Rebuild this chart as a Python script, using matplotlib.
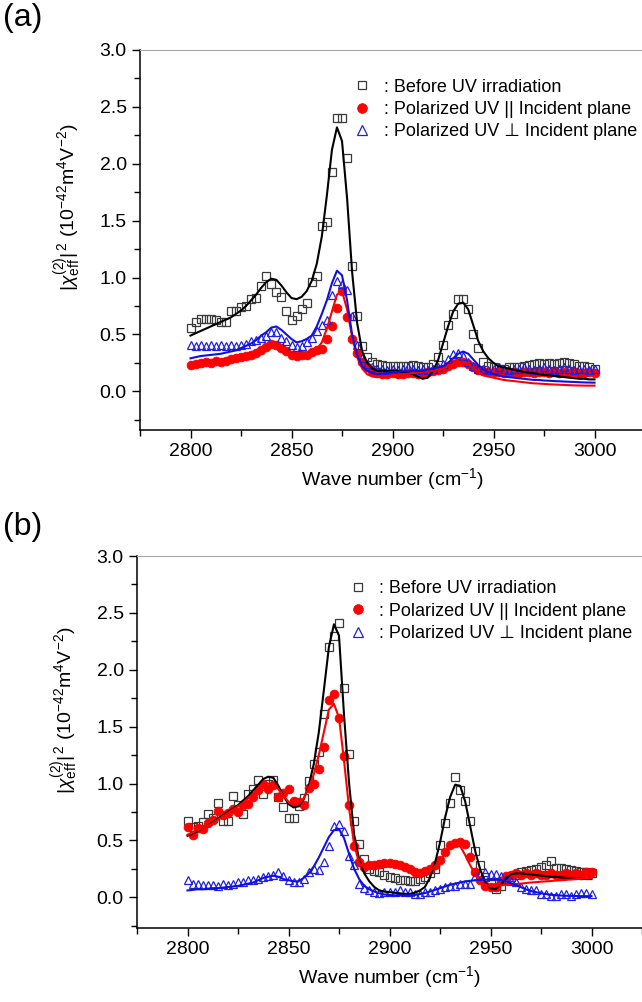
import numpy as np
import matplotlib
matplotlib.use("Agg")
import matplotlib.pyplot as plt
from matplotlib.ticker import MultipleLocator, FormatStrFormatter

plt.rcParams['font.family'] = ['Liberation Sans', 'DejaVu Sans']
plt.rcParams['mathtext.fontset'] = 'custom'
plt.rcParams['mathtext.rm'] = 'Liberation Sans'
plt.rcParams['mathtext.it'] = 'Liberation Sans:italic'
plt.rcParams['mathtext.bf'] = 'Liberation Sans:bold'

# wave number grid of the SFG scans (cm-1)
wn = np.arange(2800, 3000.1, 2.5)

# ---- (a) measured |chi|^2 ----
a_before = [0.56, 0.61, 0.64, 0.64, 0.64, 0.63, 0.61, 0.61, 0.71, 0.71,
            0.74, 0.75, 0.81, 0.82, 0.93, 1.01, 0.94, 0.87, 0.83, 0.71,
            0.63, 0.66, 0.72, 0.78, 0.96, 1.01, 1.45, 1.49, 1.93, 2.40,
            2.40, 2.05, 1.10, 0.66, 0.40, 0.30, 0.26, 0.24, 0.23, 0.22,
            0.22, 0.22, 0.22, 0.22, 0.23, 0.22, 0.21, 0.21, 0.24, 0.30,
            0.41, 0.58, 0.68, 0.81, 0.81, 0.72, 0.50, 0.38, 0.26, 0.22,
            0.21, 0.20, 0.20, 0.21, 0.21, 0.21, 0.22, 0.23, 0.24, 0.25,
            0.24, 0.25, 0.24, 0.25, 0.26, 0.25, 0.24, 0.22, 0.22, 0.21,
            0.20]
a_para = [0.23, 0.24, 0.25, 0.26, 0.25, 0.27, 0.26, 0.27, 0.28, 0.29,
          0.30, 0.31, 0.32, 0.34, 0.36, 0.39, 0.42, 0.41, 0.38, 0.35,
          0.32, 0.31, 0.32, 0.32, 0.345, 0.36, 0.37, 0.46, 0.57, 0.73,
          0.88, 0.65, 0.46, 0.34, 0.26, 0.21, 0.18, 0.16, 0.15, 0.15,
          0.16, 0.15, 0.15, 0.16, 0.16, 0.15, 0.16, 0.17, 0.18, 0.19,
          0.20, 0.22, 0.24, 0.26, 0.26, 0.24, 0.21, 0.19, 0.18, 0.17,
          0.17, 0.17, 0.16, 0.17, 0.17, 0.16, 0.17, 0.17, 0.16, 0.17,
          0.17, 0.16, 0.17, 0.16, 0.17, 0.16, 0.17, 0.16, 0.16, 0.17,
          0.16]
a_perp = [0.41, 0.40, 0.41, 0.40, 0.41, 0.40, 0.41, 0.40, 0.41, 0.40,
          0.41, 0.42, 0.44, 0.45, 0.47, 0.49, 0.52, 0.52, 0.47, 0.44,
          0.41, 0.39, 0.40, 0.43, 0.47, 0.53, 0.58, 0.63, 0.85, 0.97,
          0.94, 0.89, 0.66, 0.41, 0.29, 0.24, 0.21, 0.20, 0.20, 0.19,
          0.20, 0.19, 0.20, 0.21, 0.20, 0.19, 0.20, 0.19, 0.20, 0.21,
          0.24, 0.28, 0.33, 0.34, 0.31, 0.26, 0.22, 0.20, 0.20, 0.19,
          0.20, 0.21, 0.20, 0.19, 0.20, 0.20, 0.21, 0.20, 0.19, 0.20,
          0.21, 0.20, 0.19, 0.20, 0.21, 0.20, 0.19, 0.20, 0.20, 0.19,
          0.20]

# ---- (a) fitted curves ----
a_before_fit = [0.49, 0.51, 0.53, 0.55, 0.57, 0.59, 0.61, 0.63, 0.65, 0.68,
                0.71, 0.75, 0.80, 0.85, 0.91, 0.96, 0.99, 0.98, 0.93, 0.87,
                0.82, 0.81, 0.83, 0.88, 0.97, 1.12, 1.36, 1.72, 2.12, 2.32,
                2.20, 1.70, 1.05, 0.60, 0.35, 0.25, 0.20, 0.18, 0.18, 0.18,
                0.18, 0.18, 0.17, 0.16, 0.15, 0.13, 0.11, 0.12, 0.18, 0.27,
                0.42, 0.57, 0.70, 0.77, 0.78, 0.72, 0.58, 0.44, 0.35, 0.29,
                0.25, 0.22, 0.21, 0.20, 0.19, 0.18, 0.17, 0.165, 0.16, 0.15,
                0.145, 0.14, 0.135, 0.13, 0.125, 0.12, 0.115, 0.11, 0.11, 0.105,
                0.105]
a_para_fit = [0.24, 0.245, 0.25, 0.255, 0.26, 0.265, 0.27, 0.28, 0.29, 0.30,
              0.31, 0.32, 0.34, 0.36, 0.38, 0.41, 0.43, 0.43, 0.40, 0.36,
              0.33, 0.31, 0.31, 0.32, 0.34, 0.37, 0.43, 0.55, 0.70, 0.85,
              0.88, 0.72, 0.48, 0.30, 0.20, 0.15, 0.13, 0.125, 0.13, 0.135,
              0.14, 0.145, 0.15, 0.155, 0.16, 0.165, 0.17, 0.175, 0.18, 0.19,
              0.20, 0.22, 0.24, 0.26, 0.26, 0.24, 0.20, 0.17, 0.14, 0.13,
              0.12, 0.11, 0.10, 0.095, 0.09, 0.085, 0.08, 0.075, 0.07, 0.068,
              0.065, 0.062, 0.06, 0.058, 0.056, 0.054, 0.052, 0.051, 0.05, 0.05,
              0.05]
a_perp_fit = [0.29, 0.30, 0.31, 0.315, 0.32, 0.325, 0.33, 0.34, 0.35, 0.36,
              0.38, 0.40, 0.42, 0.45, 0.49, 0.52, 0.56, 0.57, 0.54, 0.50,
              0.46, 0.43, 0.44, 0.46, 0.49, 0.57, 0.68, 0.80, 0.95, 1.06,
              1.02, 0.80, 0.50, 0.32, 0.22, 0.18, 0.16, 0.15, 0.155, 0.16,
              0.17, 0.17, 0.175, 0.175, 0.18, 0.18, 0.18, 0.19, 0.20, 0.21,
              0.22, 0.25, 0.29, 0.33, 0.35, 0.33, 0.28, 0.23, 0.19, 0.17,
              0.15, 0.14, 0.13, 0.125, 0.12, 0.115, 0.11, 0.105, 0.10, 0.10,
              0.095, 0.093, 0.09, 0.088, 0.086, 0.084, 0.082, 0.08, 0.078, 0.077,
              0.076]

# ---- (b) measured |chi|^2 ----
b_before = [0.67, 0.62, 0.63, 0.66, 0.73, 0.70, 0.83, 0.67, 0.67, 0.89,
            0.81, 0.73, 0.91, 0.95, 1.03, 0.91, 1.00, 1.03, 0.88, 0.79,
            0.70, 0.70, 0.80, 0.87, 1.02, 1.17, 1.28, 1.61, 2.20, 2.30,
            2.41, 1.84, 1.26, 0.67, 0.47, 0.34, 0.25, 0.23, 0.22, 0.20,
            0.18, 0.17, 0.15, 0.15, 0.14, 0.14, 0.16, 0.18, 0.21, 0.25,
            0.46, 0.65, 0.83, 1.06, 0.94, 0.85, 0.67, 0.41, 0.28, 0.18,
            0.12, 0.07, 0.10, 0.15, 0.18, 0.20, 0.22, 0.23, 0.24, 0.25,
            0.27, 0.28, 0.32, 0.26, 0.26, 0.25, 0.24, 0.23, 0.22, 0.22,
            0.21]
b_para = [0.62, 0.55, 0.61, 0.60, 0.65, 0.68, 0.76, 0.72, 0.74, 0.78,
          0.75, 0.81, 0.82, 0.88, 0.94, 1.00, 0.95, 0.99, 0.88, 0.92,
          0.95, 0.85, 0.84, 0.81, 0.96, 1.00, 1.13, 1.32, 1.73, 1.79,
          1.58, 1.24, 0.81, 0.45, 0.31, 0.27, 0.28, 0.28, 0.29, 0.30,
          0.30, 0.29, 0.28, 0.27, 0.25, 0.22, 0.21, 0.23, 0.25, 0.28,
          0.33, 0.40, 0.46, 0.48, 0.49, 0.47, 0.35, 0.22, 0.15, 0.10,
          0.09, 0.09, 0.14, 0.19, 0.20, 0.21, 0.20, 0.21, 0.20, 0.21,
          0.20, 0.20, 0.21, 0.20, 0.20, 0.21, 0.20, 0.21, 0.20, 0.22,
          0.22]
b_perp = [0.15, 0.12, 0.12, 0.11, 0.11, 0.11, 0.10, 0.12, 0.11, 0.12,
          0.13, 0.13, 0.15, 0.15, 0.16, 0.18, 0.19, 0.20, 0.22, 0.19,
          0.15, 0.13, 0.13, 0.16, 0.22, 0.25, 0.24, 0.31, 0.45, 0.63,
          0.645, 0.58, 0.36, 0.28, 0.12, 0.08, 0.06, 0.05, 0.04, 0.05,
          0.05, 0.05, 0.06, 0.05, 0.05, 0.03, 0.03, 0.05, 0.05, 0.065,
          0.075, 0.09, 0.10, 0.10, 0.12, 0.12, 0.12, 0.185, 0.205, 0.22,
          0.205, 0.205, 0.19, 0.16, 0.146, 0.13, 0.09, 0.07, 0.067, 0.06,
          0.03, 0.03, 0.015, 0.015, 0.03, 0.03, 0.015, 0.03, 0.04, 0.04,
          0.03]

# ---- (b) fitted curves ----
b_before_fit = [0.54, 0.56, 0.58, 0.61, 0.63, 0.66, 0.69, 0.72, 0.75, 0.78,
                0.81, 0.85, 0.89, 0.94, 0.99, 1.04, 1.06, 1.05, 0.98, 0.89,
                0.82, 0.79, 0.80, 0.86, 0.98, 1.17, 1.45, 1.82, 2.20, 2.40,
                2.30, 1.60, 1.00, 0.55, 0.33, 0.21, 0.14, 0.09, 0.06, 0.05,
                0.045, 0.04, 0.035, 0.03, 0.03, 0.04, 0.06, 0.09, 0.17, 0.30,
                0.48, 0.70, 0.88, 0.99, 0.98, 0.84, 0.62, 0.40, 0.24, 0.13,
                0.08, 0.07, 0.11, 0.16, 0.20, 0.21, 0.21, 0.205, 0.20, 0.195,
                0.19, 0.185, 0.18, 0.18, 0.175, 0.17, 0.17, 0.165, 0.165, 0.16,
                0.16]
b_para_fit = [0.55, 0.57, 0.59, 0.61, 0.63, 0.65, 0.68, 0.71, 0.74, 0.77,
              0.80, 0.83, 0.87, 0.91, 0.95, 0.98, 1.00, 0.99, 0.95, 0.89,
              0.84, 0.81, 0.82, 0.87, 0.96, 1.08, 1.25, 1.45, 1.65, 1.70,
              1.58, 1.20, 0.78, 0.46, 0.30, 0.26, 0.26, 0.27, 0.27, 0.27,
              0.27, 0.27, 0.26, 0.25, 0.23, 0.21, 0.20, 0.21, 0.23, 0.27,
              0.32, 0.39, 0.45, 0.48, 0.45, 0.37, 0.28, 0.20, 0.14, 0.11,
              0.10, 0.10, 0.105, 0.11, 0.113, 0.117, 0.12, 0.125, 0.13, 0.133,
              0.137, 0.14, 0.143, 0.147, 0.15, 0.153, 0.157, 0.16, 0.163, 0.167,
              0.17]
b_perp_fit = [0.06, 0.065, 0.07, 0.07, 0.075, 0.08, 0.08, 0.085, 0.09, 0.095,
              0.10, 0.11, 0.12, 0.13, 0.15, 0.17, 0.18, 0.19, 0.18, 0.16,
              0.15, 0.14, 0.14, 0.17, 0.21, 0.27, 0.35, 0.44, 0.53, 0.59,
              0.60, 0.52, 0.38, 0.25, 0.16, 0.10, 0.07, 0.05, 0.035, 0.025,
              0.02, 0.017, 0.015, 0.015, 0.017, 0.02, 0.028, 0.037, 0.05, 0.065,
              0.08, 0.095, 0.11, 0.12, 0.13, 0.14, 0.145, 0.15, 0.153, 0.155,
              0.155, 0.155, 0.153, 0.14, 0.125, 0.11, 0.09, 0.07, 0.055, 0.045,
              0.035, 0.028, 0.022, 0.018, 0.015, 0.013, 0.012, 0.011, 0.01, 0.01,
              0.01]

labels = [": Before UV irradiation",
          ": Polarized UV || Incident plane",
          ": Polarized UV \u22a5 Incident plane"]

fs = 14     # tick / axis label size
lfs = 13    # legend size
lw = 1.5    # fit line width
ms = 5.6    # marker size

fig = plt.figure(figsize=(6.42, 10.02), dpi=100)
# panel (a) sits a little further right than panel (b)
ax_a = fig.add_axes([140/642, 1-430/1002, 505/642, 380/1002])
ax_b = fig.add_axes([137/642, 1-928/1002, 505/642, 372/1002])


def draw_panel(ax, before, para, perp, before_fit, para_fit, perp_fit,
               ymin, leg_x, leg_y):
    h1, = ax.plot(wn, before, ls='none', marker='s', ms=ms, mfc='none',
                  mec='#3a3a3a', mew=0.9, zorder=2)
    h2, = ax.plot(wn, para, ls='none', marker='o', ms=ms+0.8, mfc='red',
                  mec='red', mew=0.5, zorder=3)
    h3, = ax.plot(wn, perp, ls='none', marker='^', ms=ms+0.6, mfc='none',
                  mec='#2020e0', mew=0.9, zorder=4)
    ax.plot(wn, before_fit, color='black', lw=lw, zorder=5)
    ax.plot(wn, para_fit, color='red', lw=lw, zorder=5)
    ax.plot(wn, perp_fit, color='#1010e0', lw=lw, zorder=6)

    ax.set_xlim(2775, 3025)
    ax.set_ylim(ymin, 3.0)
    ax.xaxis.set_major_locator(MultipleLocator(50))
    ax.xaxis.set_minor_locator(MultipleLocator(25))
    ax.yaxis.set_major_locator(MultipleLocator(0.5))
    ax.yaxis.set_minor_locator(MultipleLocator(0.25))
    ax.yaxis.set_major_formatter(FormatStrFormatter('%.1f'))
    ax.tick_params(which='both', direction='out', top=False, right=False,
                   labelsize=fs, width=1.0)
    ax.tick_params(which='major', length=6)
    ax.tick_params(which='minor', length=4)
    for s in ('left', 'bottom'):
        ax.spines[s].set_linewidth(1.1)
    for s in ('top', 'right'):
        ax.spines[s].set_color('#a8a8a8')
        ax.spines[s].set_linewidth(0.8)

    ax.set_xlabel("Wave number (cm$^{-1}$)", fontsize=fs)
    ax.set_ylabel(r"$|\chi^{(2)}_{\mathrm{eff}}|^{\,2}$ (10$^{-42}$m$^{4}$V$^{-2}$)",
                  fontsize=fs)
    ax.yaxis.set_label_coords(-0.11, 0.585)

    ax.legend((h1, h2, h3), labels, loc='upper left',
              bbox_to_anchor=(leg_x, leg_y), frameon=False, fontsize=lfs,
              handlelength=1.0, handletextpad=0.7, labelspacing=0.3,
              borderpad=0, borderaxespad=0, markerscale=1.1)


draw_panel(ax_a, a_before, a_para, a_perp, a_before_fit, a_para_fit, a_perp_fit,
           -0.34, 0.422, 0.925)
draw_panel(ax_b, b_before, b_para, b_perp, b_before_fit, b_para_fit, b_perp_fit,
           -0.27, 0.419, 0.935)

fig.text(0.005, 0.997, "(a)", fontsize=23, ha='left', va='top')
fig.text(0.005, 0.489, "(b)", fontsize=23, ha='left', va='top')

plt.savefig("out.png", dpi=100)
